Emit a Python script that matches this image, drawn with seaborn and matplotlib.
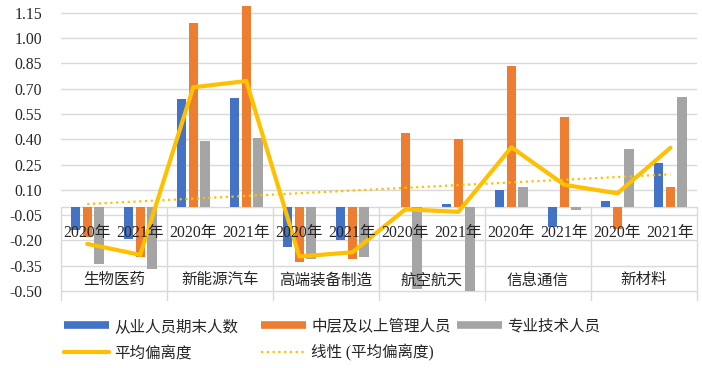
import numpy as np
import pandas as pd
import matplotlib
matplotlib.use("Agg")
import matplotlib.pyplot as plt
from matplotlib.lines import Line2D
import seaborn as sns

# ---------------- data ----------------
industries = ["生物医药", "新能源汽车", "高端装备制造", "航空航天", "信息通信", "新材料"]
years = ["2020年", "2021年"]
series_names = ["从业人员期末人数", "中层及以上管理人员", "专业技术人员"]
employees = [-0.14, -0.19, 0.64, 0.645, -0.24, -0.20, 0.0, 0.017, 0.098, -0.12, 0.033, 0.258]
managers = [-0.18, -0.295, 1.09, 1.19, -0.327, -0.307, 0.44, 0.40, 0.835, 0.533, -0.13, 0.12]
technical = [-0.34, -0.368, 0.39, 0.407, -0.31, -0.299, -0.485, -0.50, 0.116, -0.02, 0.34, 0.65]
avg_dev = [-0.22, -0.285, 0.709, 0.746, -0.295, -0.27, -0.015, -0.03, 0.353, 0.13, 0.08, 0.35]
line_name = "平均偏离度"
trend_name = "线性 (平均偏离度)"
yticks = [-0.50, -0.35, -0.20, -0.05, 0.10, 0.25, 0.40, 0.55, 0.70, 0.85, 1.00, 1.15]

colors = ["#4472C4", "#ED7D31", "#A5A5A5"]
line_color = "#FFC000"
grid_color = "#D9D9D9"

mixed = ["Liberation Serif", "Noto Sans CJK SC", "DejaVu Sans"]
cjk = ["Noto Sans CJK SC", "DejaVu Sans"]

keys = [f"{ind}|{yr}" for ind in industries for yr in years]
df = pd.DataFrame({
    "key": keys * 3,
    "series": np.repeat(series_names, len(keys)),
    "value": employees + managers + technical,
})

sns.set_style("white")
plt.rcParams["font.family"] = mixed

W, H = 702, 368
fig = plt.figure(figsize=(W / 100, H / 100), dpi=100)
ax_left, ax_right = 60.7, 697.0
ax_top, ax_bot = 5.0, 300.0
ax = fig.add_axes([ax_left / W, 1 - ax_bot / H, (ax_right - ax_left) / W, (ax_bot - ax_top) / H])

sns.barplot(data=df, x="key", y="value", hue="series", order=keys, hue_order=series_names,
            palette=colors, saturation=1, width=0.66, gap=0.2, linewidth=0,
            legend=False, ax=ax, zorder=3)

n = len(keys)
xs = np.arange(n)
ax.set_xlim(-0.5, n - 0.5)
ymin, ymax = -0.553, 1.197
ax.set_ylim(ymin, ymax)

# gridlines
for t in yticks:
    ax.axhline(t, color=grid_color, lw=1.0, zorder=1)
ax.axhline(0, color=grid_color, lw=1.0, zorder=2)
# category table vertical separators
for b in np.arange(-0.5, n, 2):
    ax.plot([b, b], [0, ymin], color=grid_color, lw=1.0, zorder=2, clip_on=False)

# average line
sns.lineplot(x=xs, y=avg_dev, color=line_color, lw=3.0, sort=False, ax=ax, zorder=5)
# linear trendline of average
coef = np.polyfit(xs, avg_dev, 1)
ax.plot(xs, np.polyval(coef, xs), color=line_color, lw=1.6, ls=(0, (1, 1.6)), zorder=4)

# axes styling
for s in ax.spines.values():
    s.set_visible(False)
ax.set_xticks([])
ax.set_xlabel("")
ax.set_ylabel("")
ax.set_yticks(yticks)
ax.set_yticklabels([f"{t:.2f}" for t in yticks], fontsize=11.3, family=["Liberation Serif"])
ax.tick_params(axis="y", length=0, pad=13.5)
ax.grid(False)

# category labels
for i, k in enumerate(keys):
    ax.text(i, -0.155, years[i % 2], ha="center", va="center", fontsize=11.3,
            family=mixed, zorder=6)
for j, ind in enumerate(industries):
    ax.text(2 * j + 0.5, -0.433, ind, ha="center", va="center", fontsize=11.2,
            family=cjk, zorder=6)

# legend (one per entry for exact placement)
prop = {"family": mixed, "size": 11.2}
entries = [
    (Line2D([], [], color=colors[0], lw=5.5, solid_capstyle="butt"), series_names[0], 64, 326.7),
    (Line2D([], [], color=colors[1], lw=5.5, solid_capstyle="butt"), series_names[1], 261, 326.7),
    (Line2D([], [], color=colors[2], lw=5.5, solid_capstyle="butt"), series_names[2], 457, 326.7),
    (Line2D([], [], color=line_color, lw=3.0), line_name, 64, 353.3),
    (Line2D([], [], color=line_color, lw=1.6, ls=(0, (1, 1.6))), trend_name, 261, 353.3),
]
for h, lab, px, py in entries:
    fig.legend([h], [lab], loc="center left", bbox_to_anchor=(px / W, 1 - py / H),
               frameon=False, prop=prop, borderpad=0, borderaxespad=0,
               handlelength=2.9, handletextpad=0.33)

fig.savefig("out.png", dpi=100)
